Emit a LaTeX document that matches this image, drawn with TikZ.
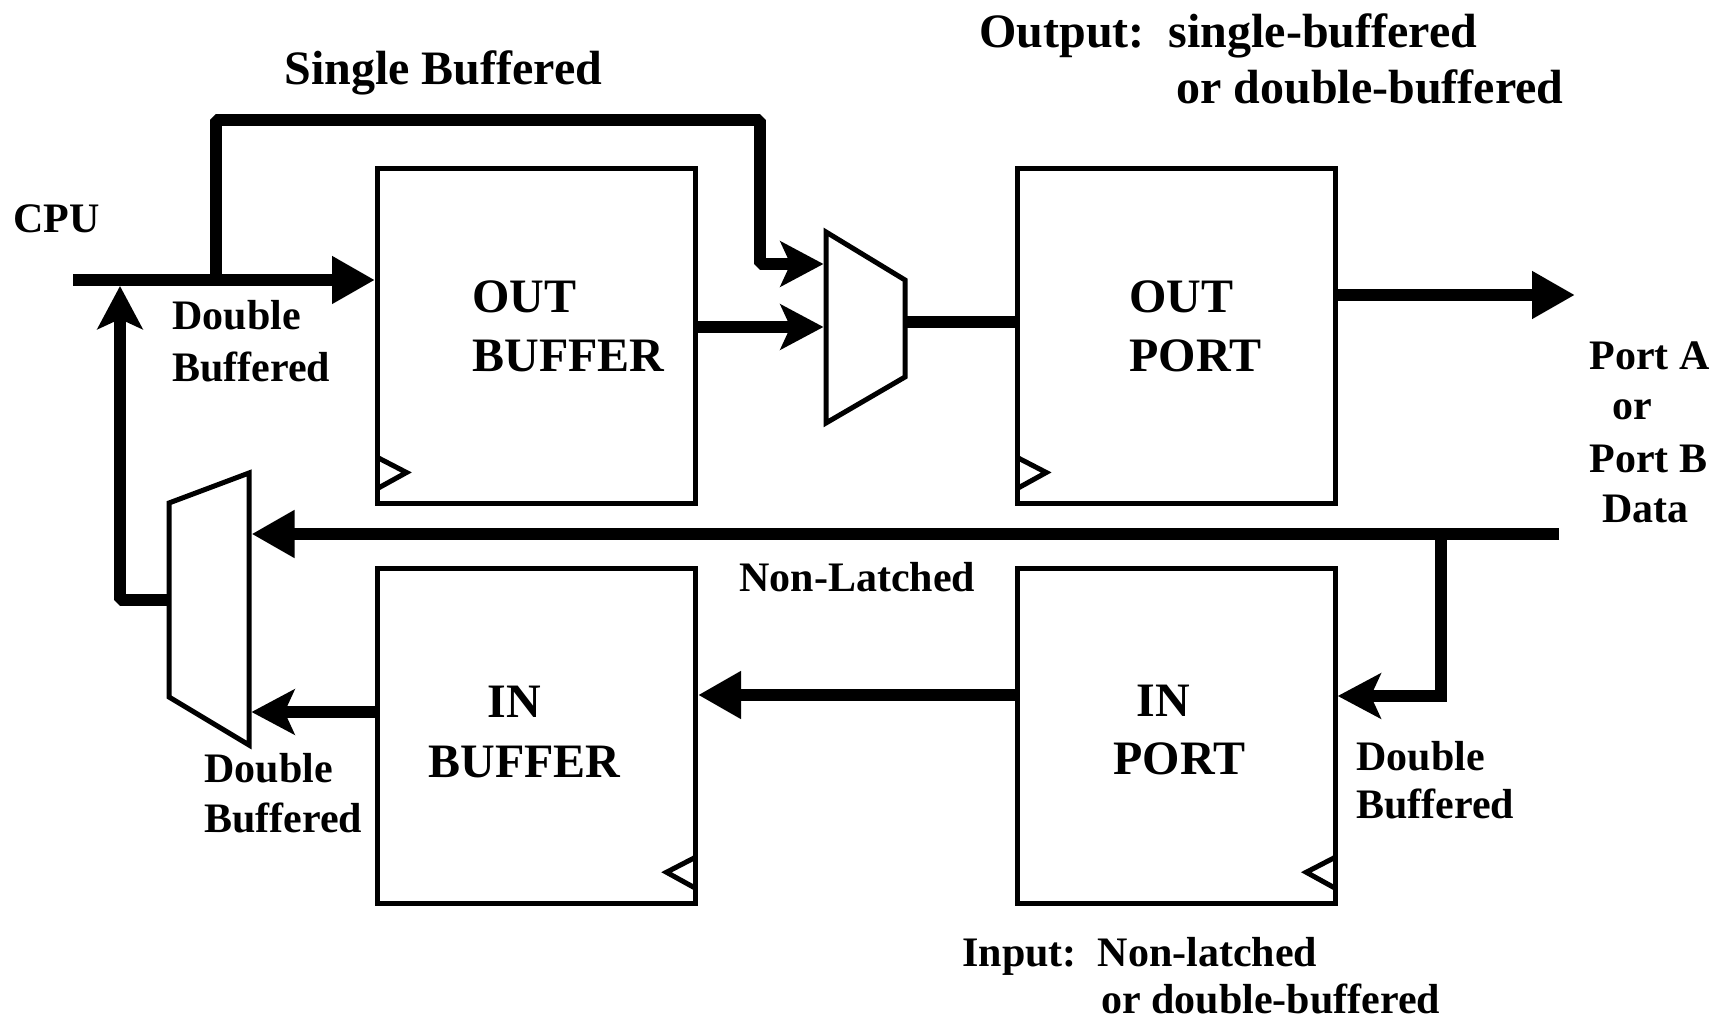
\documentclass[tikz,border=0pt]{standalone}
\usepackage{fontspec}
\setmainfont{Liberation Serif}
\usetikzlibrary{arrows.meta}
\begin{document}
\begin{tikzpicture}[x=0.5pt,y=-0.5pt,
  box/.style={draw,rectangle,line width=2.5pt,minimum width=159pt,minimum height=167.5pt,inner sep=0pt},
  thinline/.style={line width=2.5pt,line join=miter},
  bus/.style={line width=6pt,line join=miter},
  notched/.style={line join=bevel},
  tri/.style={-{Triangle[length=21.5pt,width=22.5pt]}},
  stl/.style={-{Stealth[length=21.5pt,width=22.5pt,inset=5pt]}},
  big/.style={font=\bfseries\fontsize{24}{24}\selectfont,inner sep=0pt,anchor=base west},
  small/.style={font=\bfseries\fontsize{21}{21}\selectfont,inner sep=0pt,anchor=base west}]
\useasboundingbox (0,0) rectangle (1724,1020);

% registers
\node[box] (obuf)  at (536.5,336) {};
\node[box] (oport) at (1176.25,336) {};
\node[box] (ibuf)  at (536.5,735.75) {};
\node[box] (iport) at (1176.25,735.75) {};

% clock inputs
\draw[thinline] (obuf.center)  ++(-159,152.5) -- ++(29,-16) -- ++(-29,-15);
\draw[thinline] (oport.center) ++(-159,152.5) -- ++(29,-16) -- ++(-29,-15);
\draw[thinline] (ibuf.center)  ++(159,152.5) -- ++(-29,-16) -- ++(29,-15);
\draw[thinline] (iport.center) ++(159,152.5) -- ++(-29,-16) -- ++(29,-15);

% output multiplexer
\coordinate (ma1) at (826,232);
\coordinate (ma2) at (905,280);
\coordinate (ma3) at (905,377);
\coordinate (ma4) at (826,423);
\draw[thinline] (ma1) -- (ma2) -- (ma3) -- (ma4) -- cycle;
\coordinate (maIn1) at (823.5,264);
\coordinate (maIn2) at (823.5,327);
\coordinate (maOut) at (905,322);

% input multiplexer
\coordinate (mb1) at (169,503);
\coordinate (mb2) at (249,473);
\coordinate (mb3) at (249,745);
\coordinate (mb4) at (169,697);
\draw[thinline] (mb1) -- (mb2) -- (mb3) -- (mb4) -- cycle;
\coordinate (mbIn1) at (251.5,534);
\coordinate (mbIn2) at (251.5,712);
\coordinate (mbOut) at (169,600);

% CPU side
\coordinate (cpuL) at (73,280);
\coordinate (sbA) at (216,280);
\coordinate (sbB) at (216,120);
\coordinate (sbC) at (760,120);
\coordinate (sbD) at (760,264);
\draw[bus,tri] (cpuL) -- (cpuL -| obuf.west);
\draw[bus,notched,stl] (sbA) -- (sbB) -- (sbC) -- (sbD) -- (maIn1);
\draw[bus,stl] (maIn2 -| obuf.east) -- (maIn2);
\draw[bus] (maOut) -- (maOut -| oport.west);

% port side
\coordinate (portOut) at (1575,295);
\draw[bus,tri] (portOut -| oport.east) -- (portOut);
\coordinate (nlR) at (1559,534);
\coordinate (brA) at (1441,534);
\coordinate (brB) at (1441,696);
\draw[bus,tri] (nlR) -- (mbIn1);
\draw[bus,stl] (brA) -- (brB) -- (brB -| iport.east);
\coordinate (lnk) at (856,695);
\draw[bus,tri] (lnk -| iport.west) -- (lnk -| ibuf.east);
\draw[bus,stl] (mbIn2 -| ibuf.west) -- (mbIn2);

% back to the CPU bus
\coordinate (upA) at (120,600);
\coordinate (upB) at (120,286);
\draw[bus,notched,stl] (mbOut) -- (upA) -- (upB);

% labels
\node[big] (tSingle) at (284,85) {Single Buffered};
\node[big] (tOut1) at (979,48) {Output:\ \ single-buffered};
\node[big] (tOut2) at (1176,104) {or double-buffered};
\node[small] (tCpu) at (13,233) {CPU};
\node[small] (tDbA1) at (172,330) {Double};
\node[small] (tDbA2) at (172,382) {Buffered};
\node[big] (tOb1) at (472,313) {OUT};
\node[big] (tOb2) at (472,372) {BUFFER};
\node[big] (tOp1) at (1129,313) {OUT};
\node[big] (tOp2) at (1129,372) {PORT};
\node[small] (tPa) at (1589,370) {Port A};
\node[small] (tOr) at (1612,420) {or};
\node[small] (tPb) at (1589,473) {Port B};
\node[small] (tData) at (1602,523) {Data};
\node[small] (tNl) at (739,592) {Non-Latched};
\node[big] (tIb1) at (487,718) {IN};
\node[big] (tIb2) at (428,777) {BUFFER};
\node[big] (tIp1) at (1136,717) {IN};
\node[big] (tIp2) at (1113,775) {PORT};
\node[small] (tDbB1) at (204,783) {Double};
\node[small] (tDbB2) at (204,833) {Buffered};
\node[small] (tDbC1) at (1356,770) {Double};
\node[small] (tDbC2) at (1356,819) {Buffered};
\node[small] (tIn1) at (962,966) {Input:\ \ Non-latched};
\node[small] (tIn2) at (1101,1013) {or double-buffered};
\end{tikzpicture}
\end{document}
